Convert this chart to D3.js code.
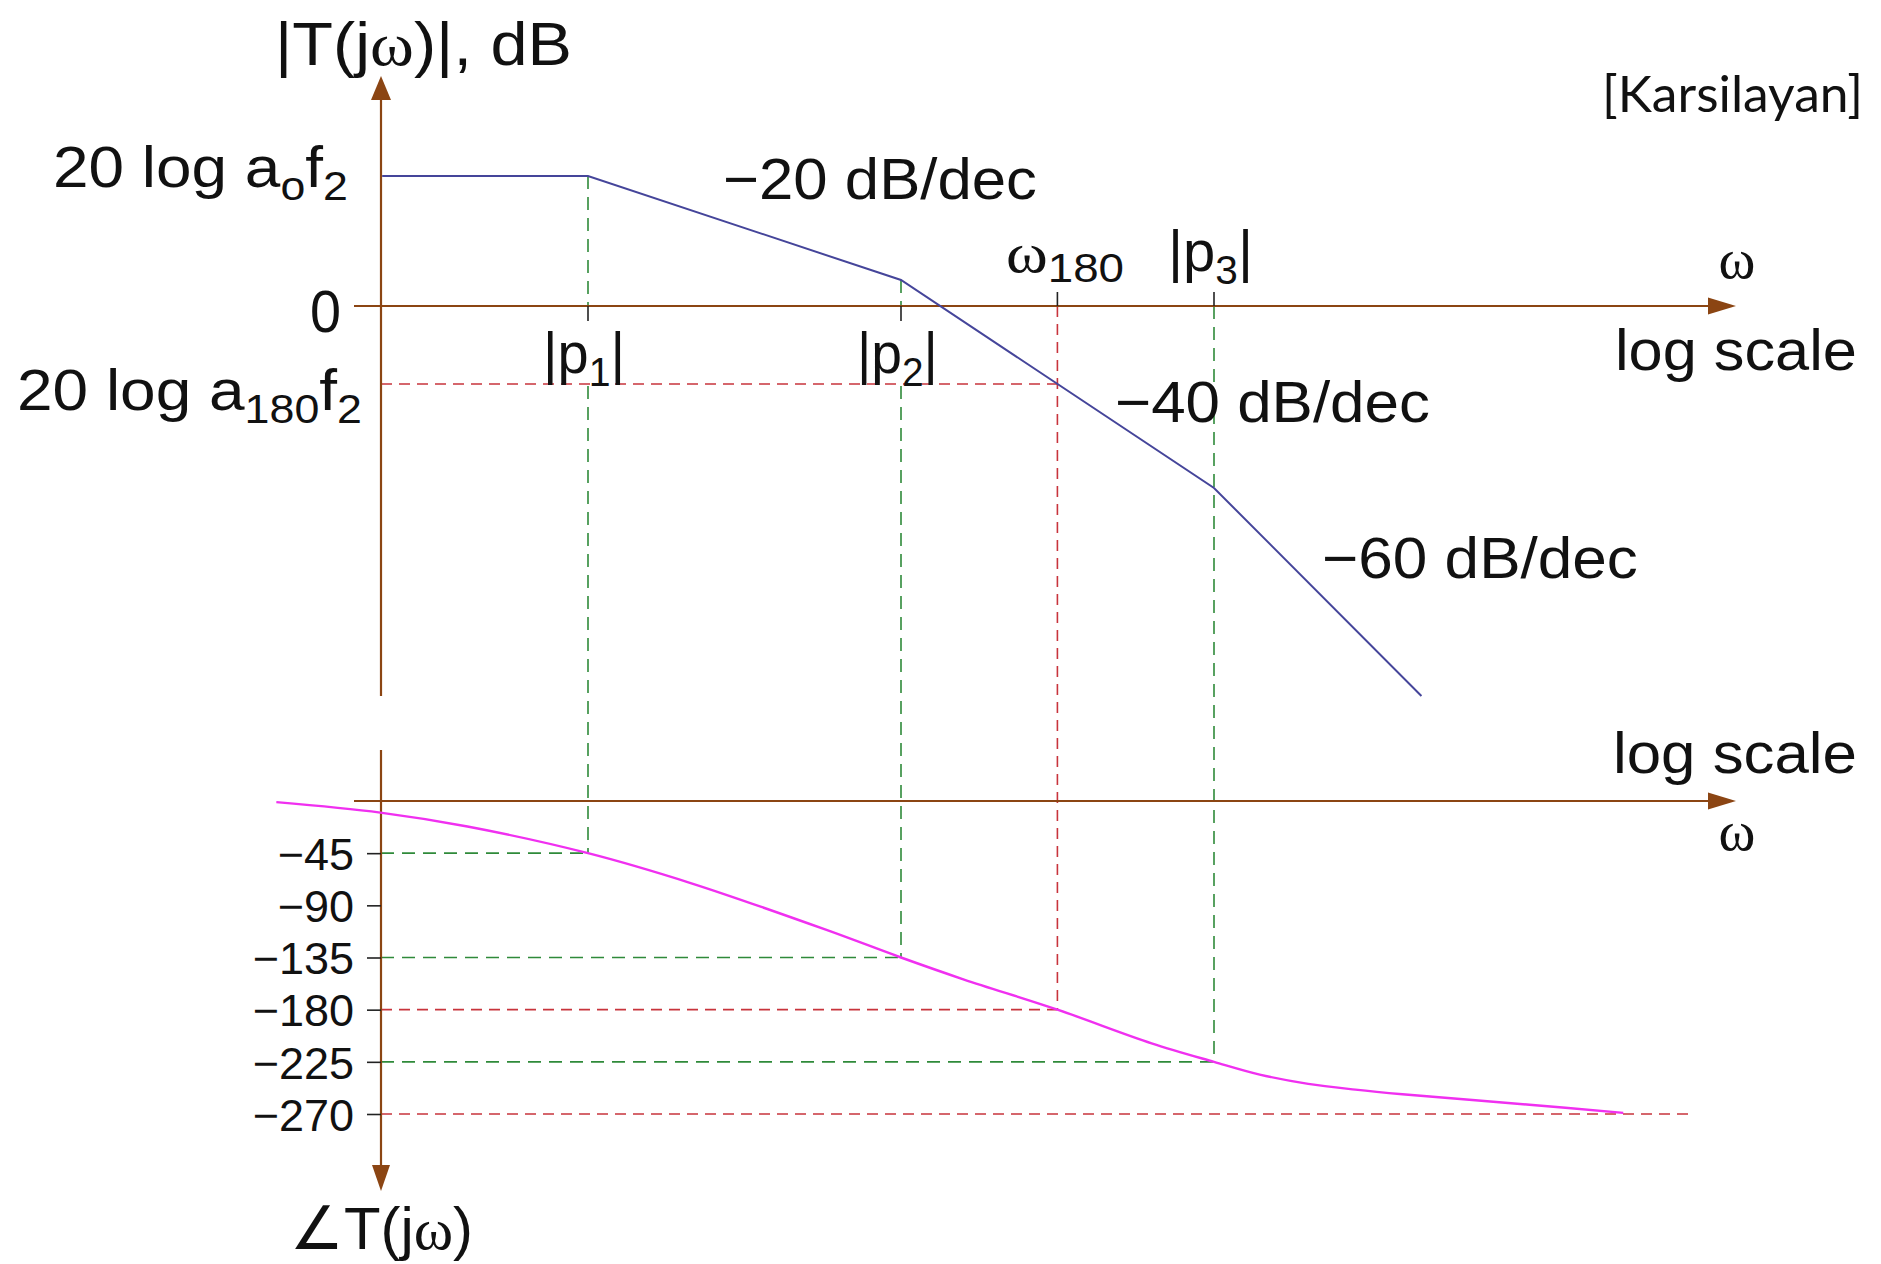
<!DOCTYPE html>
<html><head><meta charset="utf-8">
<script src="https://cdn.jsdelivr.net/npm/d3@7"></script>
<style>html,body{margin:0;padding:0;background:#fff}svg{display:block}</style>
</head><body>
<svg id="chart" width="1881" height="1264"></svg>
<script>
// ---------------- data ----------------
const poles = [1, 10, 100];                 // |p1|, |p2|, |p3|  (log scale)
const poleSubs = ["1", "2", "3"];
const polePhase = [-45, -135, -225];        // phase at each pole
const omega180 = 31.6;
const phase180 = -180;
const magOmega = [0.22, 1, 10, 100, 460];   // asymptotic magnitude break points
const magDb = [25, 25, 5, -35, -75];
const a0Db = 25;                            // 20 log a_o f_2
const a180Db = -15;                         // 20 log a_180 f_2
const phaseOmega = [0.101, 0.217, 0.412, 1, 2.14, 5.75, 10, 15.9, 31.6, 63.2, 100, 140, 200, 283, 400, 1019, 2030];
const phaseDeg = [-1, -10, -22, -45, -71, -111, -135, -154, -180, -209, -225, -236, -244, -249, -253, -262, -269];
const phaseTicks = [-45, -90, -135, -180, -225, -270];
const slopeLabels = ["\u221220 dB/dec", "\u221240 dB/dec", "\u221260 dB/dec"];
const phaseFloorEnd = 3300;                 // where the -270 guide ends

// ---------------- layout / style ----------------
const W = 1881, H = 1264;
const sans = "'Liberation Sans', Arial, sans-serif";
const serif = "'Liberation Serif', 'Times New Roman', serif";
const brown = "#8b4513", magColor = "#45459a", phColor = "#f030f0";
const green = "#2f8a3a", red = "#c8343c", tickColor = "#222";

const svg = d3.select("#chart");
svg.append("rect").attr("width", W).attr("height", H).attr("fill", "#fff");

const x = d3.scaleLog().domain([1, 100]).range([588, 1214]);
const yMag = d3.scaleLinear().domain([25, -35]).range([176, 488]);
const yPh = d3.scaleLinear().domain([0, -270]).range([801, 1114]);

const axisX = 381, hStart = 354, hTip = 1736;
const magAxisY = yMag(0), phAxisY = yPh(0);

// ---------------- guide lines ----------------
const guides = svg.append("g").attr("fill", "none").attr("stroke-width", 1.6);
const gDash = "13,8", rDash = "11,7";
poles.forEach((p, i) => {
  const px = x(p);
  if (i < 2) {
    guides.append("line").attr("x1", px).attr("x2", px)
      .attr("y1", yMag(magDb[i + 1])).attr("y2", magAxisY)
      .attr("stroke", green).attr("stroke-dasharray", gDash);
    guides.append("line").attr("x1", px).attr("x2", px)
      .attr("y1", yMag(a180Db) + 2).attr("y2", yPh(polePhase[i]))
      .attr("stroke", green).attr("stroke-dasharray", gDash);
  } else {
    guides.append("line").attr("x1", px).attr("x2", px)
      .attr("y1", magAxisY).attr("y2", yPh(polePhase[i]))
      .attr("stroke", green).attr("stroke-dasharray", gDash);
  }
  guides.append("line").attr("x1", axisX).attr("x2", px)
    .attr("y1", yPh(polePhase[i])).attr("y2", yPh(polePhase[i]))
    .attr("stroke", green).attr("stroke-dasharray", gDash);
});
// omega180 guides (red)
guides.append("line").attr("x1", x(omega180)).attr("x2", x(omega180))
  .attr("y1", magAxisY).attr("y2", yPh(phase180))
  .attr("stroke", red).attr("stroke-dasharray", rDash);
guides.append("line").attr("x1", axisX).attr("x2", x(omega180))
  .attr("y1", yPh(phase180)).attr("y2", yPh(phase180))
  .attr("stroke", red).attr("stroke-dasharray", rDash);
guides.append("line").attr("x1", axisX).attr("x2", x(omega180))
  .attr("y1", yMag(a180Db)).attr("y2", yMag(a180Db))
  .attr("stroke", red).attr("stroke-dasharray", rDash);
guides.append("line").attr("x1", axisX).attr("x2", x(phaseFloorEnd))
  .attr("y1", yPh(-270)).attr("y2", yPh(-270))
  .attr("stroke", red).attr("stroke-dasharray", rDash);

// ---------------- axes ----------------
const axes = svg.append("g").attr("stroke", brown).attr("stroke-width", 2.2);
axes.append("line").attr("x1", hStart).attr("x2", hTip - 20).attr("y1", magAxisY).attr("y2", magAxisY);
axes.append("line").attr("x1", hStart).attr("x2", hTip - 20).attr("y1", phAxisY).attr("y2", phAxisY);
axes.append("line").attr("x1", axisX).attr("x2", axisX).attr("y1", yMag(-75)).attr("y2", 92);
axes.append("line").attr("x1", axisX).attr("x2", axisX).attr("y1", 750).attr("y2", 1170);

function arrow(tx, ty, dir, len, hw) {
  let pts;
  if (dir === "right") pts = [[tx, ty], [tx - len, ty - hw], [tx - len, ty + hw]];
  if (dir === "up") pts = [[tx, ty], [tx - hw, ty + len], [tx + hw, ty + len]];
  if (dir === "down") pts = [[tx, ty], [tx - hw, ty - len], [tx + hw, ty - len]];
  svg.append("path").attr("d", "M" + pts.join("L") + "Z").attr("fill", brown);
}
arrow(hTip, magAxisY, "right", 28, 8.5);
arrow(hTip, phAxisY, "right", 28, 8.5);
arrow(axisX, 76, "up", 24, 10);
arrow(axisX, 1191, "down", 26, 9);

// ---------------- phase axis ticks ----------------
const phAxis = d3.axisLeft(yPh).tickValues(phaseTicks).tickSize(14).tickPadding(13)
  .tickFormat(d => "\u2212" + Math.abs(d));
const pa = svg.append("g").attr("transform", `translate(${axisX},0)`).call(phAxis);
pa.select(".domain").remove();
pa.selectAll(".tick line").attr("stroke", tickColor).attr("stroke-width", 1.6);
pa.selectAll(".tick text").attr("font-size", 45).attr("font-family", sans).attr("fill", "#111")
  .attr("dy", "0.36em");

// magnitude axis ticks
poles.forEach((p, i) => {
  const up = i === 2;
  svg.append("line").attr("x1", x(p)).attr("x2", x(p))
    .attr("y1", magAxisY).attr("y2", up ? magAxisY - 14 : magAxisY + 15)
    .attr("stroke", tickColor).attr("stroke-width", 1.6);
});
svg.append("line").attr("x1", x(omega180)).attr("x2", x(omega180))
  .attr("y1", magAxisY).attr("y2", magAxisY - 14)
  .attr("stroke", tickColor).attr("stroke-width", 1.6);

// ---------------- curves ----------------
const magPts = magOmega.map((w, i) => [x(w), yMag(magDb[i])]);
svg.append("path").attr("d", d3.line()(magPts))
  .attr("fill", "none").attr("stroke", magColor).attr("stroke-width", 2);

const phPts = phaseOmega.map((w, i) => [x(w), yPh(phaseDeg[i])]);
svg.append("path").attr("d", d3.line().curve(d3.curveCatmullRom.alpha(0.5))(phPts))
  .attr("fill", "none").attr("stroke", phColor).attr("stroke-width", 2.4);

// ---------------- text ----------------
function fitText(parts, o) {
  const size = o.size;
  const g = svg.append("g");
  const t = g.append("text").attr("font-size", size)
    .attr("font-family", o.family || sans).attr("fill", "#111");
  let shifted = 0;
  parts.forEach(p => {
    const ts = t.append("tspan").text(p.t);
    const want = p.sub ? size * (o.subDy || 0.23) : 0;
    ts.attr("dy", want - shifted);
    shifted = want;
    if (p.sub) ts.attr("font-size", size * (o.subSize || 0.7));
    if (p.serif) ts.attr("font-family", serif);
  });
  const bb = t.node().getBBox();
  const s = o.w ? o.w / bb.width : 1;
  let left = o.x;
  if (o.anchor === "middle") left = o.x - bb.width * s / 2;
  g.attr("transform", `translate(${left - bb.x * s},${o.y}) scale(${s},1)`);
  return g;
}

fitText([{t: "|T(j"}, {t: "\u03c9", serif: true}, {t: ")|, dB"}], {x: 275, y: 65, w: 297, size: 62});
fitText([{t: "20 log a"}, {t: "o", sub: true}, {t: "f"}, {t: "2", sub: true}], {x: 53, y: 187, w: 295, size: 58});
fitText([{t: "0"}], {x: 310, y: 332, w: 31, size: 60});
fitText([{t: "20 log a"}, {t: "180", sub: true}, {t: "f"}, {t: "2", sub: true}], {x: 17, y: 410, w: 345, size: 58});

// pole labels
const poleLabelPos = [{x: 543, y: 373, w: 82}, {x: 857, y: 373, w: 81}, {x: 1168, y: 271, w: 85}];
poles.forEach((p, i) => {
  fitText([{t: "|p"}, {t: poleSubs[i], sub: true}, {t: "|"}], Object.assign({size: 58}, poleLabelPos[i]));
});
fitText([{t: "\u03c9", serif: true}, {t: "180", sub: true}], {x: 1006, y: 272, w: 118, size: 56, subSize: 0.72, subDy: 0.18});

// axis end labels
fitText([{t: "\u03c9", serif: true}], {x: 1737, y: 278, size: 56, anchor: "middle", family: serif});
fitText([{t: "log scale"}], {x: 1615, y: 370, w: 242, size: 58});
fitText([{t: "log scale"}], {x: 1613, y: 773, w: 244, size: 58});
fitText([{t: "\u03c9", serif: true}], {x: 1737, y: 850, size: 56, anchor: "middle", family: serif});

// slopes
const slopePos = [{x: 723, y: 199, w: 314}, {x: 1115, y: 422, w: 315}, {x: 1322, y: 578, w: 316}];
slopeLabels.forEach((s, i) => fitText([{t: s}], Object.assign({size: 58}, slopePos[i])));

// phase title
fitText([{t: "\u2220T(j"}, {t: "\u03c9", serif: true}, {t: ")"}], {x: 290, y: 1249, w: 183, size: 60});

// credit
fitText([{t: "[Karsilayan]"}], {x: 1602, y: 112, w: 261, size: 50, family: "Lato, 'Open Sans', sans-serif"});
</script>
</body></html>
